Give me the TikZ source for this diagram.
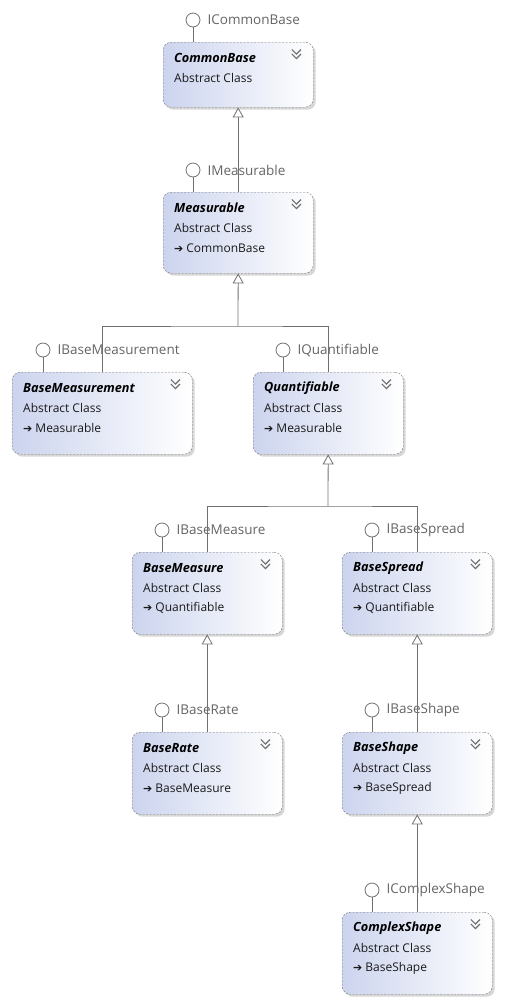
\documentclass[tikz,border=0pt]{standalone}
\usepackage{fontspec}
\setmainfont{Open Sans}
\newfontfamily\symfont{DejaVu Sans}
\usetikzlibrary{positioning,arrows.meta,shadows}
\definecolor{boxleft}{RGB}{204,212,238}
\definecolor{edge}{RGB}{112,112,112}
\definecolor{ifacetext}{RGB}{100,100,100}
\definecolor{bodytext}{RGB}{25,25,25}
\tikzset{
  classbox/.style={draw=edge, dash pattern=on 2pt off 1.5pt, rounded corners=8pt,
    left color=boxleft, right color=white, anchor=north west, inner sep=0pt,
    minimum width=150pt, minimum height=82pt,
    drop shadow={shadow xshift=2.5pt, shadow yshift=-2.5pt, fill=black!35, opacity=.45}},
  ctitle/.style={anchor=west, inner sep=0pt, text=black, font=\fontsize{12.7pt}{14pt}\selectfont\bfseries\itshape},
  ckind/.style={anchor=west, inner sep=0pt, text=bodytext, font=\fontsize{12pt}{14pt}\selectfont},
  lolly/.style={draw=edge, circle, fill=white, minimum size=14pt, inner sep=0pt, line width=.8pt},
  iface/.style={anchor=west, inner sep=0pt, text=ifacetext, font=\fontsize{13.5pt}{15pt}\selectfont},
  stem/.style={draw=edge, line width=.8pt},
  gen/.style={draw=edge, line width=.8pt, -{Triangle[open, length=10pt, width=11pt, fill=white]}},
  chev/.pic={
    \draw[edge, line width=1.2pt] (-4.5pt,4.5pt) -- (0pt,0pt) -- (4.5pt,4.5pt);
    \draw[edge, line width=1.2pt] (-4.5pt,0pt) -- (0pt,-4.5pt) -- (4.5pt,0pt);
  }
}
\newcommand{\parentof}[1]{{\symfont\fontsize{11pt}{11pt}\selectfont ➔}\hspace{3pt}#1}

\begin{document}
\begin{tikzpicture}[x=1pt, y=-1pt]
\useasboundingbox (0,0) rectangle (510,1005);

% class boxes
\node[classbox, minimum height=65pt] (cb) at (163,42) {};
\node[classbox, minimum height=81pt] (ms) at (163,192) {};
\node[classbox, minimum width=180pt] (bmt) at (12,372) {};
\node[classbox] (qf) at (253,372) {};
\node[classbox] (bme) at (132,552) {};
\node[classbox] (bsp) at (342,552) {};
\node[classbox] (brt) at (132,732) {};
\node[classbox] (bsh) at (342,732) {};
\node[classbox] (csh) at (342,912) {};

% titles and kinds
\node[ctitle] (cb-t) at ([xshift=11pt,yshift=-16pt]cb.north west) {CommonBase};
\node[ckind] (cb-k) at ([xshift=11pt,yshift=-36pt]cb.north west) {Abstract Class};
\node[ctitle] (ms-t) at ([xshift=11pt,yshift=-16pt]ms.north west) {Measurable};
\node[ckind] (ms-k) at ([xshift=11pt,yshift=-36pt]ms.north west) {Abstract Class};
\node[ckind] (ms-p) at ([xshift=11pt,yshift=-56pt]ms.north west) {\parentof{CommonBase}};
\node[ctitle] (bmt-t) at ([xshift=11pt,yshift=-16pt]bmt.north west) {BaseMeasurement};
\node[ckind] (bmt-k) at ([xshift=11pt,yshift=-36pt]bmt.north west) {Abstract Class};
\node[ckind] (bmt-p) at ([xshift=11pt,yshift=-56pt]bmt.north west) {\parentof{Measurable}};
\node[ctitle] (qf-t) at ([xshift=11pt,yshift=-16pt]qf.north west) {Quantifiable};
\node[ckind] (qf-k) at ([xshift=11pt,yshift=-36pt]qf.north west) {Abstract Class};
\node[ckind] (qf-p) at ([xshift=11pt,yshift=-56pt]qf.north west) {\parentof{Measurable}};
\node[ctitle] (bme-t) at ([xshift=11pt,yshift=-16pt]bme.north west) {BaseMeasure};
\node[ckind] (bme-k) at ([xshift=11pt,yshift=-36pt]bme.north west) {Abstract Class};
\node[ckind] (bme-p) at ([xshift=11pt,yshift=-56pt]bme.north west) {\parentof{Quantifiable}};
\node[ctitle] (bsp-t) at ([xshift=11pt,yshift=-16pt]bsp.north west) {BaseSpread};
\node[ckind] (bsp-k) at ([xshift=11pt,yshift=-36pt]bsp.north west) {Abstract Class};
\node[ckind] (bsp-p) at ([xshift=11pt,yshift=-56pt]bsp.north west) {\parentof{Quantifiable}};
\node[ctitle] (brt-t) at ([xshift=11pt,yshift=-16pt]brt.north west) {BaseRate};
\node[ckind] (brt-k) at ([xshift=11pt,yshift=-36pt]brt.north west) {Abstract Class};
\node[ckind] (brt-p) at ([xshift=11pt,yshift=-56pt]brt.north west) {\parentof{BaseMeasure}};
\node[ctitle] (bsh-t) at ([xshift=11pt,yshift=-16pt]bsh.north west) {BaseShape};
\node[ckind] (bsh-k) at ([xshift=11pt,yshift=-36pt]bsh.north west) {Abstract Class};
\node[ckind] (bsh-p) at ([xshift=11pt,yshift=-56pt]bsh.north west) {\parentof{BaseSpread}};
\node[ctitle] (csh-t) at ([xshift=11pt,yshift=-16pt]csh.north west) {ComplexShape};
\node[ckind] (csh-k) at ([xshift=11pt,yshift=-36pt]csh.north west) {Abstract Class};
\node[ckind] (csh-p) at ([xshift=11pt,yshift=-56pt]csh.north west) {\parentof{BaseShape}};

% collapse chevrons
\pic at ([xshift=-17pt,yshift=-12pt]cb.north east) {chev};
\pic at ([xshift=-17pt,yshift=-12pt]ms.north east) {chev};
\pic at ([xshift=-17pt,yshift=-12pt]bmt.north east) {chev};
\pic at ([xshift=-17pt,yshift=-12pt]qf.north east) {chev};
\pic at ([xshift=-17pt,yshift=-12pt]bme.north east) {chev};
\pic at ([xshift=-17pt,yshift=-12pt]bsp.north east) {chev};
\pic at ([xshift=-17pt,yshift=-12pt]brt.north east) {chev};
\pic at ([xshift=-17pt,yshift=-12pt]bsh.north east) {chev};
\pic at ([xshift=-17pt,yshift=-12pt]csh.north east) {chev};

% interfaces
\node[lolly] (cb-i) at ([xshift=30pt,yshift=22pt]cb.north west) {};
\node[iface, right=7pt of cb-i] (cb-l) {ICommonBase};
\node[lolly] (ms-i) at ([xshift=30pt,yshift=22pt]ms.north west) {};
\node[iface, right=7pt of ms-i] (ms-l) {IMeasurable};
\node[lolly] (bmt-i) at ([xshift=31pt,yshift=22pt]bmt.north west) {};
\node[iface, right=7pt of bmt-i] (bmt-l) {IBaseMeasurement};
\node[lolly] (qf-i) at ([xshift=30pt,yshift=22pt]qf.north west) {};
\node[iface, right=7pt of qf-i] (qf-l) {IQuantifiable};
\node[lolly] (bme-i) at ([xshift=30pt,yshift=22pt]bme.north west) {};
\node[iface, right=7pt of bme-i] (bme-l) {IBaseMeasure};
\node[lolly] (bsp-i) at ([xshift=30pt,yshift=22pt]bsp.north west) {};
\node[iface, right=7pt of bsp-i] (bsp-l) {IBaseSpread};
\node[lolly] (brt-i) at ([xshift=30pt,yshift=22pt]brt.north west) {};
\node[iface, right=7pt of brt-i] (brt-l) {IBaseRate};
\node[lolly] (bsh-i) at ([xshift=30pt,yshift=22pt]bsh.north west) {};
\node[iface, right=7pt of bsh-i] (bsh-l) {IBaseShape};
\node[lolly] (csh-i) at ([xshift=30pt,yshift=22pt]csh.north west) {};
\node[iface, right=7pt of csh-i] (csh-l) {IComplexShape};
\draw[stem] (cb-i) -- (cb-i |- cb.north);
\draw[stem] (ms-i) -- (ms-i |- ms.north);
\draw[stem] (bmt-i) -- (bmt-i |- bmt.north);
\draw[stem] (qf-i) -- (qf-i |- qf.north);
\draw[stem] (bme-i) -- (bme-i |- bme.north);
\draw[stem] (bsp-i) -- (bsp-i |- bsp.north);
\draw[stem] (brt-i) -- (brt-i |- brt.north);
\draw[stem] (bsh-i) -- (bsh-i |- bsh.north);
\draw[stem] (csh-i) -- (csh-i |- csh.north);

% inheritance
\coordinate (ms-j) at (238,326);
\coordinate (qf-j) at (328,506);
\draw[gen] (ms.north) -- (cb.south);
\draw[stem] (bmt.north) |- (ms-j) -| (qf.north);
\draw[gen] (ms-j) -- (ms.south);
\draw[stem] (bme.north) |- (qf-j) -| (bsp.north);
\draw[gen] (qf-j) -- (qf.south);
\draw[gen] (brt.north) -- (bme.south);
\draw[gen] (bsh.north) -- (bsp.south);
\draw[gen] (csh.north) -- (bsh.south);
\end{tikzpicture}
\end{document}
